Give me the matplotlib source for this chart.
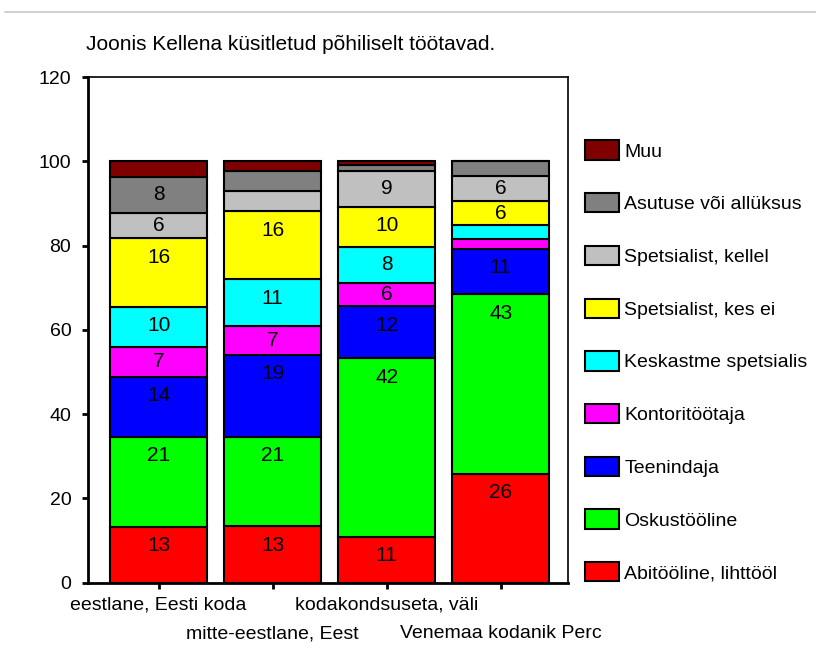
import matplotlib
matplotlib.use("Agg")
import matplotlib.pyplot as plt
import numpy as np
from matplotlib.lines import Line2D

plt.rcParams['font.family'] = ['Liberation Sans', 'DejaVu Sans']

# andmed (protsendid), alt -> üles
categories = ["eestlane, Eesti koda", "mitte-eestlane, Eest",
              "kodakondsuseta, väli", "Venemaa kodanik Perc"]
series = ["Abitööline, lihttööl", "Oskustööline", "Teenindaja", "Kontoritöötaja",
          "Keskastme spetsialis", "Spetsialist, kes ei", "Spetsialist, kellel",
          "Asutuse või allüksus", "Muu"]
colors = ["#ff0000", "#00ff00", "#0000ff", "#ff00ff", "#00ffff",
          "#ffff00", "#c0c0c0", "#808080", "#800000"]

abitooline = [13.2, 13.4, 10.8, 25.8]
oskustooline = [21.4, 21.2, 42.4, 42.6]
teenindaja = [14.2, 19.4, 12.4, 10.8]
kontor = [7.1, 6.9, 5.6, 2.4]
keskaste = [9.6, 11.1, 8.4, 3.2]
spets_kes_ei = [16.2, 16.1, 9.6, 5.8]
spets_kellel = [6.1, 4.8, 8.6, 6.0]
asutus = [8.4, 4.9, 1.4, 3.4]
muu = [3.8, 2.2, 0.8, 0.0]

values = [abitooline, oskustooline, teenindaja, kontor, keskaste,
          spets_kes_ei, spets_kellel, asutus, muu]

fig = plt.figure(figsize=(8.16, 6.6), dpi=100)
ax = fig.add_axes([0.1078, 0.1174, 0.5882, 0.7659])

# hall joon üleval
fig.add_artist(Line2D([0.006, 1.0], [0.982, 0.982], color="#c8c8c8", lw=1.2,
                      transform=fig.transFigure))

x = np.arange(len(categories))
bottom = np.zeros(len(categories))
handles = []
for name, vals, col in zip(series, values, colors):
    vals = np.array(vals)
    bars = ax.bar(x, vals, width=0.85, bottom=bottom, color=col,
                  edgecolor="black", linewidth=1.5, label=name)
    handles.append(bars)
    for xi, b, v in zip(x, bottom, vals):
        if v >= 5:
            top = b + v
            ypos = top - min(v / 2, 4.5)
            ax.text(xi, ypos, f"{v:.0f}", ha="center", va="center", fontsize=15)
    bottom += vals

ax.set_ylim(0, 120)
ax.set_xlim(-0.62, 3.59)
ax.set_yticks(range(0, 121, 20))
ax.tick_params(axis="y", labelsize=14, length=4, width=2, pad=8)
ax.tick_params(axis="x", labelsize=14, length=4, width=2, pad=6)
ax.set_xticks(x)
# kategooriad kahes reas
ax.set_xticklabels([c if i % 2 == 0 else "" for i, c in enumerate(categories)])
for i, c in enumerate(categories):
    if i % 2 == 1:
        ax.annotate(c, xy=(x[i], 0), xycoords=("data", "axes fraction"),
                    xytext=(0, -51), textcoords="offset pixels",
                    ha="center", va="center", fontsize=14)

for s in ["top", "right"]:
    ax.spines[s].set_linewidth(1.2)
for s in ["left", "bottom"]:
    ax.spines[s].set_linewidth(2)

fig.text(0.106, 0.932, "Joonis Kellena küsitletud põhiliselt töötavad.",
         fontsize=15, ha="left", va="center")

leg = ax.legend(handles[::-1], series[::-1], loc="upper left",
                bbox_to_anchor=(1.02, 0.89), frameon=False, fontsize=14,
                handlelength=1.75, handleheight=1.15, handletextpad=0.25,
                labelspacing=1.67, borderaxespad=0)

fig.savefig("out.png", dpi=100)
